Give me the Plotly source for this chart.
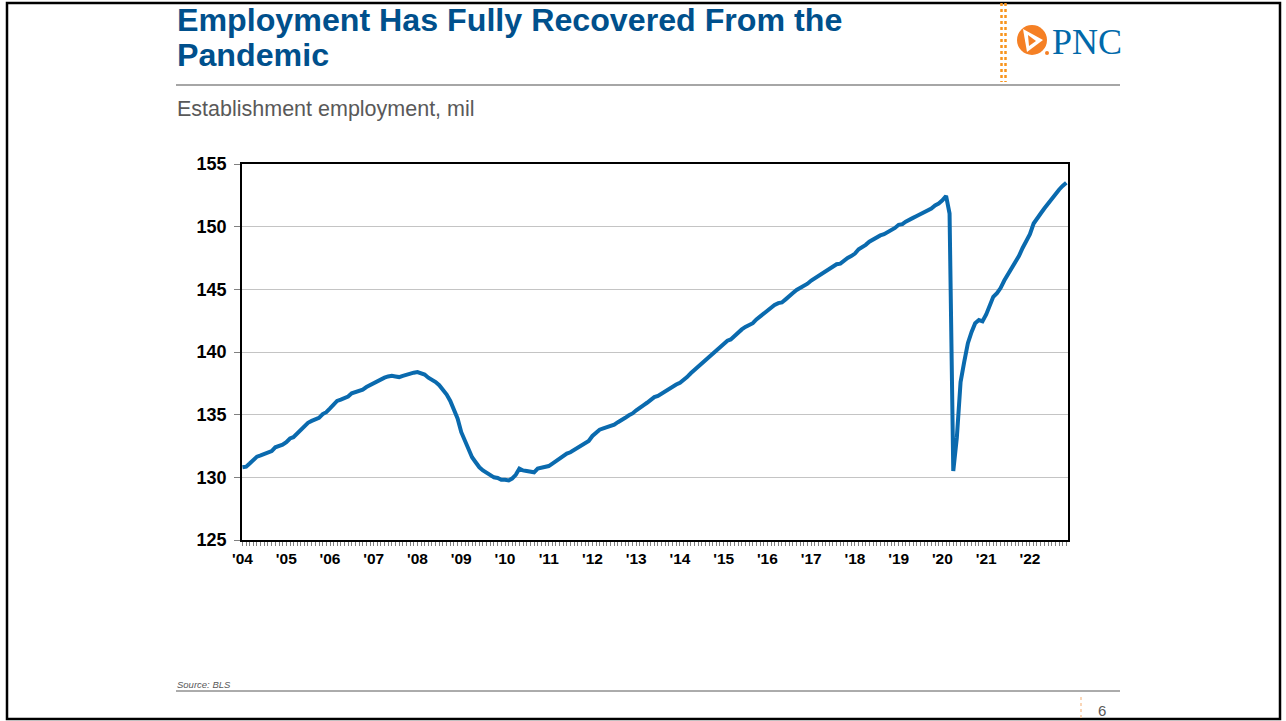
import pandas as pd
import plotly.graph_objects as go

W, H = 1286, 721

# ---------------- data (millions, monthly, Jan 2004 - Nov 2022) ----------------
emp_2004 = [130.8, 130.85, 131.1, 131.4, 131.65, 131.75, 131.85, 131.95, 132.1, 132.4, 132.5, 132.6]
emp_2005 = [132.8, 133.1, 133.2, 133.5, 133.75, 134.0, 134.35, 134.5, 134.6, 134.75, 135.05, 135.2]
emp_2006 = [135.5, 135.8, 136.1, 136.2, 136.3, 136.45, 136.7, 136.8, 136.9, 137.0, 137.2, 137.35]
emp_2007 = [137.5, 137.65, 137.85, 137.95, 138.05, 138.1, 138.05, 138.0, 138.1, 138.2, 138.3, 138.35]
emp_2008 = [138.4, 138.3, 138.2, 137.95, 137.8, 137.6, 137.35, 137.0, 136.6, 136.1, 135.4, 134.7]
emp_2009 = [133.6, 132.9, 132.1, 131.6, 131.2, 130.8, 130.55, 130.35, 130.2, 130.0, 129.95, 129.8]
emp_2010 = [129.8, 129.75, 129.9, 130.2, 130.7, 130.55, 130.5, 130.45, 130.4, 130.7, 130.75, 130.85]
emp_2011 = [130.9, 131.1, 131.3, 131.55, 131.7, 131.9, 132.0, 132.2, 132.35, 132.55, 132.75, 132.9]
emp_2012 = [133.3, 133.6, 133.8, 133.9, 134.0, 134.05, 134.2, 134.4, 134.55, 134.75, 134.95, 135.1]
emp_2013 = [135.35, 135.6, 135.75, 135.95, 136.2, 136.4, 136.5, 136.7, 136.9, 137.1, 137.3, 137.4]
emp_2014 = [137.55, 137.75, 138.0, 138.3, 138.55, 138.85, 139.1, 139.3, 139.55, 139.8, 140.15, 140.4]
emp_2015 = [140.6, 140.9, 141.0, 141.3, 141.6, 141.8, 142.0, 142.15, 142.3, 142.6, 142.85, 143.1]
emp_2016 = [143.3, 143.5, 143.75, 143.9, 143.95, 144.2, 144.5, 144.7, 144.95, 145.1, 145.25, 145.45]
emp_2017 = [145.7, 145.9, 146.0, 146.2, 146.45, 146.65, 146.85, 147.0, 147.05, 147.3, 147.5, 147.65]
emp_2018 = [147.85, 148.2, 148.35, 148.55, 148.8, 149.0, 149.1, 149.3, 149.4, 149.55, 149.7, 149.9]
emp_2019 = [150.15, 150.2, 150.4, 150.6, 150.7, 150.85, 151.0, 151.15, 151.3, 151.45, 151.7, 151.85]
emp_2020 = [152.1, 152.45, 151.05, 130.5, 133.2, 137.6, 139.2, 140.7, 141.6, 142.3, 142.55, 142.45]
emp_2021 = [143.0, 143.7, 144.4, 144.7, 145.1, 145.7, 146.15, 146.65, 147.15, 147.65, 148.3, 148.85]
emp_2022 = [149.4, 150.25, 150.7, 151.05, 151.45, 151.85, 152.25, 152.6, 152.95, 153.25, 153.5]

employment = (emp_2004 + emp_2005 + emp_2006 + emp_2007 + emp_2008 + emp_2009 + emp_2010
              + emp_2011 + emp_2012 + emp_2013 + emp_2014 + emp_2015 + emp_2016 + emp_2017
              + emp_2018 + emp_2019 + emp_2020 + emp_2021 + emp_2022)
months = pd.date_range("2004-01-01", periods=len(employment), freq="MS")

y_ticks = [125, 130, 135, 140, 145, 150, 155]

title_line1 = "Employment Has Fully Recovered From the"
title_line2 = "Pandemic"
subtitle = "Establishment employment, mil"
source = "Source: BLS"
page_no = "6"


def px(x):
    return x / W


def py(y):
    return 1 - y / H


fig = go.Figure()
fig.add_trace(go.Scatter(
    x=months, y=employment, mode="lines",
    line=dict(color="#0A6AAE", width=4),
    hoverinfo="skip", showlegend=False,
))

fig.update_layout(
    template="none",
    width=W, height=H, autosize=False,
    margin=dict(l=0, r=0, t=0, b=0, pad=0, autoexpand=False),
    paper_bgcolor="white", plot_bgcolor="white",
    font=dict(family="Liberation Sans, Arial, sans-serif", color="black"),
    xaxis=dict(
        automargin=False,
        domain=[px(242), px(1068)],
        range=["2003-12-28", "2022-11-15"],
        tick0="2004-01-01", dtick="M12", tickformat="'%y",
        ticks="outside", ticklen=4, tickcolor="#808080", tickwidth=1,
        minor=dict(dtick="M1", ticks="outside", ticklen=4, tickcolor="#808080", showgrid=False),
        tickfont=dict(size=15.5, color="black", weight="bold"),
        showline=True, linecolor="black", linewidth=1.5, mirror=True,
        showgrid=False, zeroline=False,
    ),
    yaxis=dict(
        automargin=False,
        domain=[py(540), py(164)],
        range=[125, 155],
        tickvals=y_ticks,
        ticks="outside", ticklen=6, tickcolor="#808080", tickwidth=1,
        ticklabelstandoff=4,
        tickfont=dict(size=18, color="black", weight="bold"),
        showline=True, linecolor="black", linewidth=1.5, mirror=True,
        showgrid=True, gridcolor="#C4C4C4", gridwidth=1, zeroline=False,
    ),
)

shapes = [
    # slide frame
    dict(type="rect", xref="paper", yref="paper", x0=px(7), x1=px(1280), y0=py(719), y1=py(3),
         line=dict(color="black", width=2.5)),
    # title underline
    dict(type="line", xref="paper", yref="paper", x0=px(176), x1=px(1120), y0=py(85), y1=py(85),
         line=dict(color="#A6A6A6", width=2)),
    # footer line
    dict(type="line", xref="paper", yref="paper", x0=px(176), x1=px(1120), y0=py(691), y1=py(691),
         line=dict(color="#595959", width=1)),
    # dotted orange separators
    dict(type="line", xref="paper", yref="paper", x0=px(1001.5), x1=px(1001.5), y0=py(3), y1=py(82),
         line=dict(color="#F7941D", width=2.5, dash="dot")),
    dict(type="line", xref="paper", yref="paper", x0=px(1005.5), x1=px(1005.5), y0=py(3), y1=py(82),
         line=dict(color="#F7941D", width=2.5, dash="dot")),
    dict(type="line", xref="paper", yref="paper", x0=px(1081), x1=px(1081), y0=py(697), y1=py(719),
         line=dict(color="#F9C9A0", width=1.5, dash="dot")),
    # PNC logo circle
    dict(type="circle", xref="paper", yref="paper", x0=px(1017), x1=px(1047), y0=py(55), y1=py(25),
         fillcolor="#F58025", line=dict(width=0)),
    # logo white triangle
    dict(type="path", xref="paper", yref="paper",
         path=f"M {px(1023)} {py(29)} L {px(1043)} {py(40)} L {px(1027)} {py(52)} Z",
         fillcolor="white", line=dict(width=0)),
    dict(type="path", xref="paper", yref="paper",
         path=f"M {px(1028)} {py(35)} L {px(1036)} {py(41)} L {px(1029)} {py(46)} Z",
         fillcolor="#F58025", line=dict(width=0)),
    dict(type="circle", xref="paper", yref="paper", x0=px(1045), x1=px(1049), y0=py(55), y1=py(51),
         fillcolor="#F58025", line=dict(width=0)),
]
fig.update_layout(shapes=shapes)

annotations = [
    dict(text=f"<b>{title_line1}</b>", x=px(175), y=py(20.5), xanchor="left", yanchor="middle",
         font=dict(size=32.2, color="#00508C")),
    dict(text=f"<b>{title_line2}</b>", x=px(175), y=py(55.5), xanchor="left", yanchor="middle",
         font=dict(size=32.2, color="#00508C")),
    dict(text=subtitle, x=px(175), y=py(109), xanchor="left", yanchor="middle",
         font=dict(size=21.5, color="#595959")),
    dict(text=f"<i>{source}</i>", x=px(175), y=py(684), xanchor="left", yanchor="middle",
         font=dict(size=9.5, color="#595959")),
    dict(text=page_no, x=px(1102), y=py(710), xanchor="center", yanchor="middle",
         font=dict(size=15, color="#595959")),
    dict(text="PNC", x=px(1050), y=py(42), xanchor="left", yanchor="middle",
         font=dict(size=36, color="#0069AA", family="Liberation Serif, Times New Roman, serif")),
]
for a in annotations:
    a.update(xref="paper", yref="paper", showarrow=False)
fig.update_layout(annotations=annotations)

fig.write_html(
    "out.html",
    config={"displayModeBar": False},
    post_script="document.body.style.margin='0px';document.body.style.overflow='hidden';"
                "document.documentElement.style.overflow='hidden';",
)
